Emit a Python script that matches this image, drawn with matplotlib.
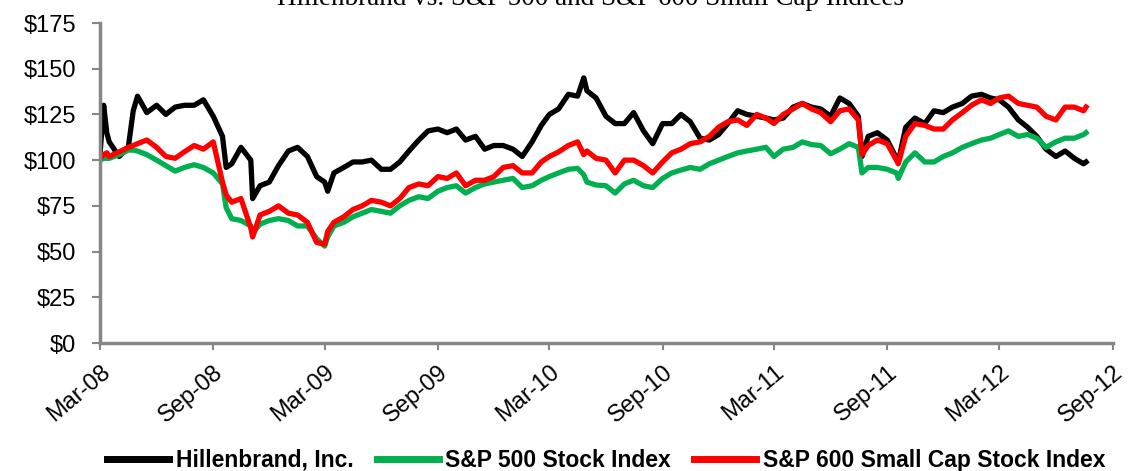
import matplotlib
matplotlib.use("Agg")
import matplotlib.pyplot as plt
import matplotlib.dates as mdates
import pandas as pd

# values (indexed, $100 = Mar-08)
dates = [
    "2008-03-01", "2008-03-07", "2008-03-12", "2008-03-16", "2008-04-01", "2008-04-16", "2008-04-24",
    "2008-05-01", "2008-05-16", "2008-06-01", "2008-06-16", "2008-07-01", "2008-07-16", "2008-08-01",
    "2008-08-16", "2008-09-01", "2008-09-16", "2008-09-22", "2008-10-01", "2008-10-16", "2008-11-01",
    "2008-11-04", "2008-11-16", "2008-12-01", "2008-12-16",
    "2009-01-01", "2009-01-16", "2009-02-01", "2009-02-16", "2009-03-01", "2009-03-06", "2009-03-16",
    "2009-04-01", "2009-04-16", "2009-05-01", "2009-05-16", "2009-06-01", "2009-06-16", "2009-07-01",
    "2009-07-16", "2009-08-01", "2009-08-16", "2009-09-01", "2009-09-16", "2009-10-01", "2009-10-16",
    "2009-11-01", "2009-11-16", "2009-12-01", "2009-12-16",
    "2010-01-01", "2010-01-16", "2010-02-01", "2010-02-16", "2010-03-01", "2010-03-16", "2010-04-01",
    "2010-04-16", "2010-04-26", "2010-05-01", "2010-05-16", "2010-06-01", "2010-06-16", "2010-07-01",
    "2010-07-16", "2010-08-01", "2010-08-16", "2010-09-01", "2010-09-16", "2010-10-01", "2010-10-16",
    "2010-11-01", "2010-11-16", "2010-12-01", "2010-12-16",
    "2011-01-01", "2011-01-16", "2011-02-01", "2011-02-16", "2011-03-01", "2011-03-16", "2011-04-01",
    "2011-04-16", "2011-05-01", "2011-05-16", "2011-06-01", "2011-06-16", "2011-07-01", "2011-07-16",
    "2011-07-22", "2011-08-01", "2011-08-16", "2011-09-01", "2011-09-16", "2011-09-19", "2011-10-01",
    "2011-10-16", "2011-11-01", "2011-11-16", "2011-12-01", "2011-12-16",
    "2012-01-01", "2012-01-16", "2012-02-01", "2012-02-16", "2012-03-01", "2012-03-16", "2012-04-01",
    "2012-04-16", "2012-05-01", "2012-05-16", "2012-06-01", "2012-06-16", "2012-07-01", "2012-07-16",
    "2012-07-20",
]

hillenbrand = [
    103, 130, 115, 110, 102, 107, 127, 135, 126, 130, 125, 129, 130, 130, 133, 124, 113, 96, 98, 107,
    100, 79, 86, 88, 97,
    105, 107, 102, 91, 88, 83, 93, 96, 99, 99, 100, 95, 95, 99, 105, 111, 116, 117, 115, 117, 111,
    113, 106, 108, 108,
    106, 102, 110, 119, 125, 128, 136, 135, 145, 138, 134, 124, 120, 120, 126, 116, 109, 120, 120,
    125, 121, 112, 111, 114, 120,
    127, 125, 124, 123, 122, 123, 129, 131, 129, 128, 124, 134, 131, 124, 102, 113, 115, 111, 101,
    99, 118, 123, 120, 127, 126, 129,
    131, 135, 136, 134, 133, 129, 122, 118, 113, 106, 102, 105, 101, 98, 99,
]

sp500 = [
    100, 101, 101, 101, 103, 105.5, 105.5, 105, 103, 100, 97, 94, 96, 97.5, 96, 93, 87, 74, 68, 67,
    64, 60, 65, 67, 68,
    67, 64, 64, 57, 53, 58, 64, 66, 69, 71, 73, 72, 71, 75, 78, 80, 79, 83, 85, 86, 82, 85, 87, 88, 89,
    90, 85, 86, 89, 91, 93, 95, 95.5, 92, 88, 86.4, 86, 82, 87, 89, 86, 85, 90, 93, 94.6, 96, 95, 98,
    100, 102,
    104, 105, 106, 107, 102, 106, 107, 110, 108.5, 108, 103.5, 106, 109, 107, 93, 96, 96, 95, 93, 90,
    99, 104, 99, 99, 102, 104,
    107, 109, 111, 112, 114, 116, 113, 114, 112, 107, 110, 112, 112, 114, 115,
]

sp600 = [
    101, 103, 104, 102, 104.5, 107, 108, 109, 111, 107, 102, 101, 104.5, 108, 106, 110, 88, 81, 77,
    79, 63, 58, 70, 72, 75,
    71, 70, 66, 55, 54, 61, 66, 69, 73, 75, 78, 77, 75, 79, 85, 87, 86, 91, 90, 93, 86, 89, 89, 91, 96,
    97, 93, 93, 99, 102, 104.5, 108, 110, 103, 105, 101, 100, 93, 100, 100, 97, 93, 99, 104, 106, 109,
    110, 113, 118, 121,
    122, 119, 125, 123, 120, 125, 128, 131, 128, 126, 121, 127, 128, 122, 103, 108, 111, 109, 100, 98,
    113, 120, 119, 117, 117, 122,
    126, 130, 133, 131, 134, 135, 131, 130, 129, 124, 122, 129, 129, 127, 129,
]

series_names = ["Hillenbrand, Inc.", "S&P 500 Stock Index", "S&P 600 Small Cap Stock Index"]
series_colors = ["#000000", "#00B050", "#FF0000"]
y_ticks = [0, 25, 50, 75, 100, 125, 150, 175]
title = "Hillenbrand vs. S&P 500 and S&P 600 Small Cap Indices"

plt.rcParams["font.family"] = ["Liberation Sans", "DejaVu Sans"]

x = pd.to_datetime(dates)

fig = plt.figure(figsize=(11.35, 4.71), dpi=100)
ax = fig.add_axes([100 / 1135, 128 / 471, 1012.5 / 1135, 320 / 471])

for vals, name, col in zip([hillenbrand, sp500, sp600], series_names, series_colors):
    ax.plot(x, vals, color=col, lw=3.8, label=name, solid_joinstyle="round")

ax.set_ylim(0, 175)
ax.set_yticks(y_ticks)
ax.set_yticklabels([f"${v}" for v in y_ticks])
ax.set_xlim(pd.Timestamp("2008-03-01"), pd.Timestamp("2012-09-01"))
ax.set_xticks(pd.date_range("2008-03-01", "2012-09-01", freq="6MS"))
ax.xaxis.set_major_formatter(mdates.DateFormatter("%b-%y"))

for side in ["top", "right"]:
    ax.spines[side].set_visible(False)
for side in ["left", "bottom"]:
    ax.spines[side].set_color("#868686")
    ax.spines[side].set_linewidth(2.5)

ax.tick_params(axis="both", colors="#868686", width=1.5, labelcolor="black", labelsize=17)
ax.tick_params(axis="y", length=6, pad=11)
ax.tick_params(axis="x", length=5, pad=8)
for lbl in ax.get_xticklabels():
    lbl.set_rotation(40)
    lbl.set_rotation_mode("anchor")
    lbl.set_ha("right")
    lbl.set_va("top")

leg = ax.legend(loc="center", bbox_to_anchor=(0.5, -0.366), ncol=3, frameon=False,
                prop={"weight": "bold", "size": 16.5}, handlelength=2.7,
                handletextpad=0.3, columnspacing=1.0)
for h in leg.legend_handles:
    h.set_linewidth(5)

fig.text(0.52, 1 - 5 / 471, title, ha="center", va="baseline",
         fontsize=19.5, family=["Liberation Serif", "DejaVu Serif"])

fig.savefig("out.png", dpi=100)
